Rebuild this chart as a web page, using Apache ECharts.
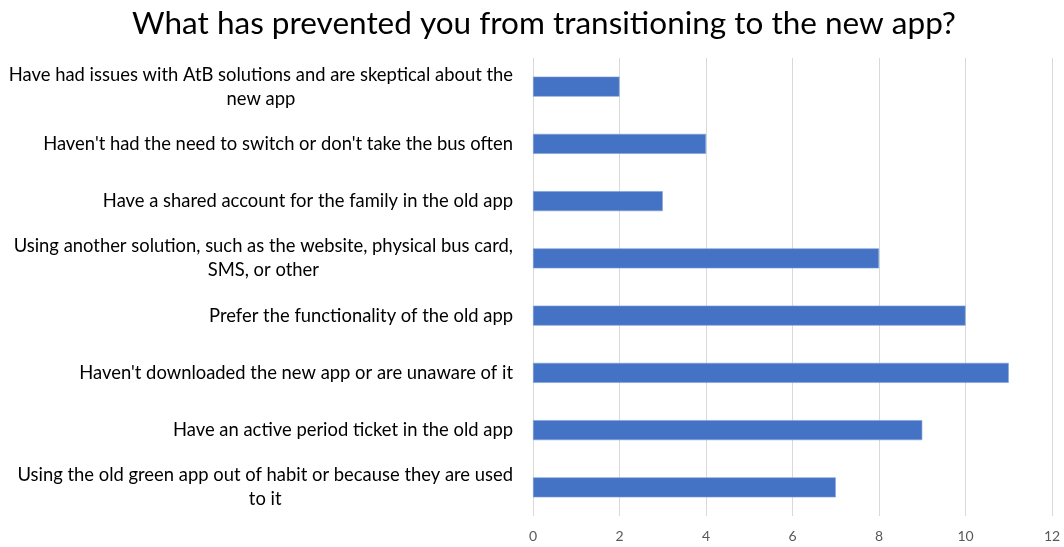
<!DOCTYPE html>
<html>
<head>
<meta charset="utf-8">
<script src="https://cdn.jsdelivr.net/npm/echarts@6/dist/echarts.min.js"></script>
<style>
  html, body { margin: 0; padding: 0; background: #ffffff; }
  #chart { width: 1064px; height: 547px; }
</style>
</head>
<body>
<div id="chart"></div>
<script>
// Survey answers, listed top to bottom
const categories = [
  'Have had issues with AtB solutions and are skeptical about the\nnew app',
  "Haven't had the need to switch or don't take the bus often",
  'Have a shared account for the family in the old app',
  'Using another solution, such as the website, physical bus card,\nSMS, or other',
  'Prefer the functionality of the old app',
  "Haven't downloaded the new app or are unaware of it",
  'Have an active period ticket in the old app',
  'Using the old green app out of habit or because they are used\nto it'
];
const responses = [2, 4, 3, 8, 10, 11, 9, 7];
const xTickValues = [0, 2, 4, 6, 8, 10, 12];

const FONT = 'Lato';
const chart = echarts.init(document.getElementById('chart'));

chart.setOption({
  backgroundColor: '#ffffff',
  animation: false,
  title: {
    text: 'What has prevented you from transitioning to the new app?',
    left: 539,
    textAlign: 'center',
    top: 3,
    textStyle: { fontFamily: FONT, fontSize: 31.5, fontWeight: 'normal', color: '#000000' }
  },
  grid: { left: 533, right: 12, top: 58, bottom: 31, containLabel: false },
  xAxis: {
    type: 'value',
    min: xTickValues[0],
    max: xTickValues[xTickValues.length - 1],
    interval: xTickValues[1] - xTickValues[0],
    axisLine: { show: false },
    axisTick: { show: false },
    axisLabel: { color: '#595959', fontFamily: FONT, fontSize: 14, margin: 13 },
    splitLine: { show: true, lineStyle: { color: '#d9d9d9', width: 1 } }
  },
  yAxis: {
    type: 'category',
    inverse: true,
    data: categories,
    axisLine: { show: false },
    axisTick: { show: false },
    axisLabel: {
      margin: 20,
      align: 'right',
      lineHeight: 24,
      formatter: function (v) {
        return v.split('\n').map(function (l) { return '{c|' + l + '}'; }).join('\n');
      },
      rich: {
        c: { fontFamily: FONT, fontSize: 18.4, color: '#000000', align: 'center', lineHeight: 24 }
      }
    }
  },
  series: [{
    type: 'bar',
    data: responses,
    barWidth: 20,
    itemStyle: { color: '#4472c4', borderColor: '#7f9fd8', borderWidth: 0.6 }
  }]
});
</script>
</body>
</html>
